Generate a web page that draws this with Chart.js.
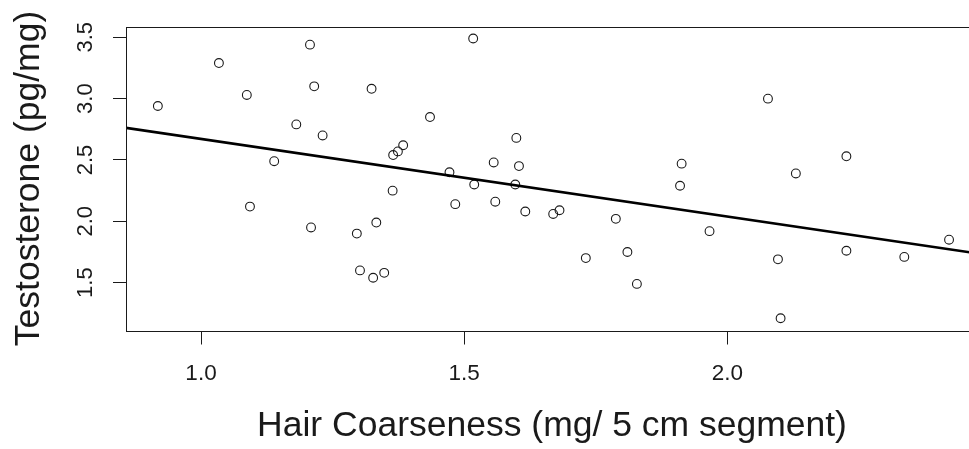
<!DOCTYPE html>
<html>
<head>
<meta charset="utf-8">
<script src="https://cdn.jsdelivr.net/npm/chart.js@4/dist/chart.umd.min.js"></script>
<style>
  html, body { margin: 0; padding: 0; background: #fff; overflow: hidden; }
  #wrap { width: 969px; height: 449px; overflow: hidden; }
</style>
</head>
<body>
<div id="wrap"><canvas id="plot" width="985" height="449"></canvas></div>
<script>
  'use strict';

  // Hair coarseness (x) vs testosterone (y)
  var coarseness = [
    0.918, 1.034, 1.087, 1.207, 1.215, 1.181, 1.231, 1.139, 1.093, 1.209,
    1.517, 1.324, 1.435, 1.599, 1.365, 1.374, 1.384, 1.556, 1.604, 1.472,
    1.519, 1.597, 1.364, 1.483, 1.559, 1.616, 1.669, 1.681, 1.788, 1.333,
    1.296, 1.731, 1.810, 1.302, 1.327, 1.348, 2.077, 1.913, 1.910, 2.226,
    2.130, 1.966, 1.828, 2.096, 2.226, 2.336, 2.421, 2.101
  ];
  var testosterone = [
    2.94, 3.29, 3.03, 3.44, 3.10, 2.79, 2.70, 2.49, 2.12, 1.95,
    3.49, 3.08, 2.85, 2.68, 2.54, 2.57, 2.62, 2.48, 2.45, 2.40,
    2.30, 2.30, 2.25, 2.14, 2.16, 2.08, 2.06, 2.09, 2.02, 1.99,
    1.90, 1.70, 1.75, 1.60, 1.54, 1.58, 3.00, 2.47, 2.29, 2.53,
    2.39, 1.92, 1.49, 1.69, 1.76, 1.71, 1.85, 1.21
  ];

  // fitted line, its two ends at the plot edges
  var fitX = [0.8575, 2.476];
  var fitY = [2.762, 1.737];

  var xTicks = [1.0, 1.5, 2.0];
  var yTicks = [1.5, 2.0, 2.5, 3.0, 3.5];

  var FONT = '"Liberation Sans", Arial, sans-serif';
  var INK = '#1a1a1a';

  var points = coarseness.map(function (x, i) { return { x: x, y: testosterone[i] }; });
  var fitLine = fitX.map(function (x, i) { return { x: x, y: fitY[i] }; });

  // R-style frame and rotated y labels
  var rFrame = {
    id: 'rFrame',
    afterDraw: function (chart) {
      var ctx = chart.ctx;
      var a = chart.chartArea;
      ctx.save();
      ctx.strokeStyle = INK;
      ctx.lineWidth = 1;
      ctx.strokeRect(Math.round(a.left) + 0.5, Math.round(a.top) + 0.5,
                     Math.round(a.right - a.left), Math.round(a.bottom - a.top));
      var ys = chart.scales.y;
      ctx.fillStyle = INK;
      ctx.font = '22px ' + FONT;
      ctx.textAlign = 'center';
      ctx.textBaseline = 'alphabetic';
      yTicks.forEach(function (v) {
        ctx.save();
        ctx.translate(92, ys.getPixelForValue(v));
        ctx.rotate(-Math.PI / 2);
        ctx.fillText(v.toFixed(1), 0, 0);
        ctx.restore();
      });
      ctx.restore();
    }
  };

  new Chart(document.getElementById('plot'), {
    type: 'scatter',
    data: {
      datasets: [
        {
          label: 'fit',
          type: 'line',
          data: fitLine,
          borderColor: '#000',
          borderWidth: 2.6,
          pointRadius: 0,
          fill: false,
          tension: 0
        },
        {
          label: 'subjects',
          data: points,
          pointStyle: 'circle',
          pointRadius: 4.4,
          pointBorderWidth: 1.1,
          pointBorderColor: INK,
          pointBackgroundColor: 'rgba(0,0,0,0)'
        }
      ]
    },
    options: {
      responsive: false,
      animation: false,
      events: [],
      layout: { padding: { top: 26.5, right: 7, left: 0, bottom: 0 } },
      plugins: {
        legend: { display: false },
        tooltip: { enabled: false }
      },
      scales: {
        x: {
          type: 'linear',
          min: 0.8575,
          max: 2.476,
          afterFit: function (s) { s.height = 118.5; },
          afterBuildTicks: function (s) {
            s.ticks = xTicks.map(function (v) { return { value: v }; });
          },
          border: { display: false },
          grid: { drawOnChartArea: false, drawTicks: true, tickLength: 14, color: INK, tickWidth: 1 },
          ticks: {
            padding: 16,
            color: INK,
            font: { family: FONT, size: 22.5 },
            callback: function (v) { return v.toFixed(1); }
          },
          title: {
            display: true,
            text: 'Hair Coarseness (mg/ 5 cm segment)',
            color: INK,
            font: { family: FONT, size: 35.5 },
            padding: { top: 0, bottom: 1 }
          }
        },
        y: {
          type: 'linear',
          min: 1.11,
          max: 3.588,
          afterFit: function (s) { s.width = 126; },
          afterBuildTicks: function (s) {
            s.ticks = yTicks.map(function (v) { return { value: v }; });
          },
          border: { display: false },
          grid: { drawOnChartArea: false, drawTicks: true, tickLength: 13, color: INK, tickWidth: 1 },
          ticks: { display: false },
          title: {
            display: true,
            text: 'Testosterone (pg/mg)',
            color: INK,
            font: { family: FONT, size: 35.5 },
            padding: { top: 8, bottom: 0 }
          }
        }
      }
    },
    plugins: [rFrame]
  });
</script>
</body>
</html>
